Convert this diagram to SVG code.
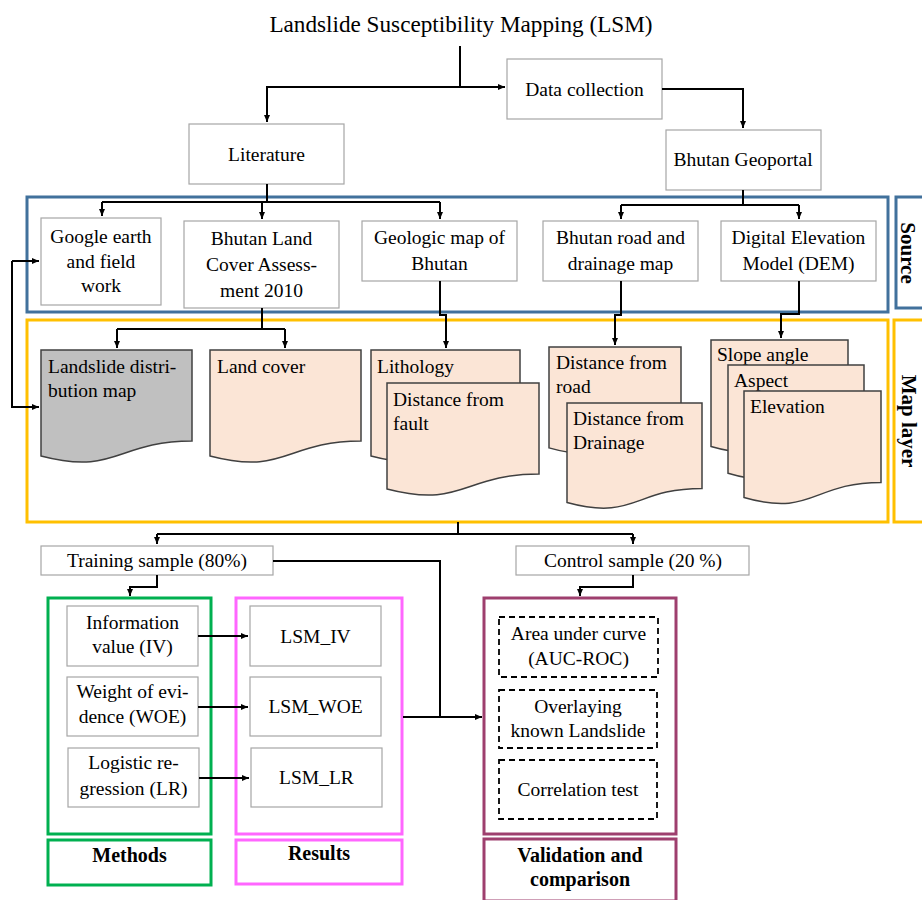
<svg xmlns="http://www.w3.org/2000/svg" width="922" height="900" viewBox="0 0 922 900">
<style>
text{font-family:"Liberation Serif","Times New Roman",serif;font-size:19.5px;fill:#000}
.c{text-anchor:middle}
.b{font-weight:bold;font-size:20px}
.lab{font-weight:bold;font-size:21px;text-anchor:middle}
.box{fill:#fff;stroke:#a6a6a6;stroke-width:1.2}
.doc{fill:#fbe5d6;stroke:#404040;stroke-width:1.5}
.dash{fill:#fff;stroke:#000;stroke-width:1.8;stroke-dasharray:6 4}
.conn path{fill:none;stroke:#000;stroke-width:2}
.arr{marker-end:url(#ah)}
</style>
<defs>
<marker id="ah" markerUnits="userSpaceOnUse" markerWidth="8" markerHeight="7" refX="7" refY="3" orient="auto"><path d="M0,0 L7,3 L0,6 z" fill="#000"/></marker>
</defs>
<rect width="922" height="900" fill="#fff"/>

<g id="title"><text class="c" x="461" y="32" style="font-size:23.2px">Landslide Susceptibility Mapping (LSM)</text></g>

<!-- group frames -->
<g id="source-frame">
<rect x="27" y="197" width="861" height="115" fill="none" stroke="#41719c" stroke-width="3"/>
<rect x="896" y="197" width="40" height="111" fill="none" stroke="#41719c" stroke-width="3"/>
<text class="lab" transform="translate(901,253) rotate(90)">Source</text>
</g>
<g id="maplayer-frame">
<rect x="27" y="320" width="861" height="202" fill="none" stroke="#ffc000" stroke-width="3"/>
<rect x="894" y="320" width="40" height="202" fill="none" stroke="#ffc000" stroke-width="3"/>
<text class="lab" transform="translate(902,421) rotate(90)">Map layer</text>
</g>

<g id="data-collection"><rect class="box" x="507" y="59" width="155" height="60"/><text class="c" x="584.5" y="96">Data collection</text></g>
<g id="literature"><rect class="box" x="189" y="124" width="155" height="60"/><text class="c" x="266.5" y="161">Literature</text></g>
<g id="geoportal"><rect class="box" x="666" y="130" width="155" height="60"/><text class="c" x="743" y="166">Bhutan Geoportal</text></g>

<g id="google-earth"><rect class="box" x="41" y="218" width="120" height="87"/><text class="c" x="101" y="243">Google earth</text><text class="c" x="101" y="268">and field</text><text class="c" x="101" y="292">work</text></g>
<g id="land-cover-assessment"><rect class="box" x="184" y="221" width="155" height="87"/><text class="c" x="261.5" y="245">Bhutan Land</text><text class="c" x="261.5" y="271">Cover Assess-</text><text class="c" x="261.5" y="297">ment 2010</text></g>
<g id="geologic-map"><rect class="box" x="362" y="221" width="155" height="60"/><text class="c" x="439.5" y="244">Geologic map of</text><text class="c" x="439.5" y="270">Bhutan</text></g>
<g id="road-drainage-map"><rect class="box" x="543" y="221" width="155" height="60"/><text class="c" x="620.5" y="244">Bhutan road and</text><text class="c" x="620.5" y="270">drainage map</text></g>
<g id="dem"><rect class="box" x="721" y="221" width="155" height="60"/><text class="c" x="798.5" y="244">Digital Elevation</text><text class="c" x="798.5" y="270">Model (DEM)</text></g>

<g id="landslide-distribution"><path d="M41,350 H192 V441 C116.5,441 116.5,475.7 41,456 Z" fill="#c0c0c0" stroke="#404040" stroke-width="1.5"/><text x="48" y="373">Landslide distri-</text><text x="48" y="397">bution map</text></g>
<g id="land-cover"><path class="doc" d="M210,350 H361 V441 C285.5,441 285.5,475.7 210,456 Z"/><text x="217" y="373">Land cover</text></g>
<g id="lithology"><path class="doc" d="M371,350 H520 V441 C445.5,441 445.5,475.7 371,456 Z"/><text x="377" y="373">Lithology</text></g>
<g id="distance-fault"><path class="doc" d="M387,383 H539 V474 C463,474 463,508.7 387,489 Z"/><text x="393" y="406">Distance from</text><text x="393" y="430">fault</text></g>
<g id="distance-road"><path class="doc" d="M549,347 H681 V433.6 C615,433.6 615,466.6 549,447.9 Z"/><text x="556" y="369">Distance from</text><text x="556" y="393">road</text></g>
<g id="distance-drainage"><path class="doc" d="M567,403 H702 V488.4 C634.5,488.4 634.5,521 567,502.5 Z"/><text x="573" y="425">Distance from</text><text x="573" y="449">Drainage</text></g>
<g id="slope"><path class="doc" d="M711,340 H848 V431.4 C779.5,431.4 779.5,466.3 711,446.5 Z"/><text x="717" y="361">Slope angle</text></g>
<g id="aspect"><path class="doc" d="M728,365 H864 V458 C796,458 796,493.5 728,473.3 Z"/><text x="734" y="387">Aspect</text></g>
<g id="elevation"><path class="doc" d="M744,391 H881 V482.4 C812.5,482.4 812.5,517.3 744,497.5 Z"/><text x="750" y="413">Elevation</text></g>

<g id="training"><rect class="box" x="41" y="546" width="232" height="29"/><text class="c" x="157" y="567">Training sample (80%)</text></g>
<g id="control"><rect class="box" x="516" y="546" width="233" height="29"/><text class="c" x="633" y="567">Control sample (20 %)</text></g>

<g id="methods">
<rect x="48" y="598" width="163" height="236" fill="none" stroke="#00b050" stroke-width="3"/>
<rect x="48" y="840" width="163" height="45" fill="none" stroke="#00b050" stroke-width="3"/>
<text class="c b" x="129.5" y="862">Methods</text>
</g>
<g id="results">
<rect x="236" y="598" width="166" height="236" fill="none" stroke="#ff66ff" stroke-width="3"/>
<rect x="236" y="840" width="166" height="44" fill="none" stroke="#ff66ff" stroke-width="3"/>
<text class="c b" x="319" y="860">Results</text>
</g>
<g id="validation">
<rect x="484" y="598" width="192" height="236" fill="none" stroke="#9e3f6e" stroke-width="3"/>
<rect x="484" y="839" width="192" height="62" fill="none" stroke="#9e3f6e" stroke-width="3"/>
<text class="c b" x="580" y="862">Validation and</text>
<text class="c b" x="580" y="886">comparison</text>
</g>

<g id="iv"><rect class="box" x="67" y="606" width="131" height="60"/><text class="c" x="132.5" y="629">Information</text><text class="c" x="132.5" y="653">value (IV)</text></g>
<g id="woe"><rect class="box" x="67" y="677" width="131" height="59"/><text class="c" x="132.5" y="698">Weight of evi-</text><text class="c" x="132.5" y="723">dence (WOE)</text></g>
<g id="lr"><rect class="box" x="68" y="748" width="131" height="59"/><text class="c" x="133.5" y="769">Logistic re-</text><text class="c" x="133.5" y="795">gression (LR)</text></g>
<g id="lsm-iv"><rect class="box" x="250" y="606" width="131" height="60"/><text class="c" x="315.5" y="643">LSM_IV</text></g>
<g id="lsm-woe"><rect class="box" x="250" y="677" width="131" height="59"/><text class="c" x="315.5" y="713">LSM_WOE</text></g>
<g id="lsm-lr"><rect class="box" x="251" y="748" width="131" height="59"/><text class="c" x="316.5" y="784">LSM_LR</text></g>

<g id="auc"><rect class="dash" x="499" y="617" width="159" height="60"/><text class="c" x="578.5" y="640">Area under curve</text><text class="c" x="578.5" y="665">(AUC-ROC)</text></g>
<g id="overlay"><rect class="dash" x="499" y="690" width="158" height="58"/><text class="c" x="578" y="713">Overlaying</text><text class="c" x="578" y="737">known Landslide</text></g>
<g id="correlation"><rect class="dash" x="499" y="760" width="158" height="59"/><text class="c" x="578" y="796">Correlation test</text></g>

<g id="connectors" class="conn">
<path class="arr" d="M460,46 V87 H505"/>
<path class="arr" d="M460,87 H267 V122"/>
<path class="arr" d="M662,89 H743 V128"/>
<path d="M267,184 V202 M102,202 H440"/>
<path class="arr" d="M102,202 V216"/>
<path class="arr" d="M262,202 V219"/>
<path class="arr" d="M440,202 V219"/>
<path d="M743,190 V205 M621,205 H799"/>
<path class="arr" d="M621,205 V219"/>
<path class="arr" d="M799,205 V219"/>
<path class="arr" d="M12,261 H39"/>
<path class="arr" d="M12,261 V407 H39"/>
<path d="M262,308 V329 M117,329 H285"/>
<path class="arr" d="M117,329 V348"/>
<path class="arr" d="M285,329 V348"/>
<path class="arr" d="M440,281 V315 H446 V348"/>
<path class="arr" d="M621,281 V315 H615 V345"/>
<path class="arr" d="M799,281 V314 H781 V338"/>
<path d="M458,522 V534 M157,534 H633"/>
<path class="arr" d="M157,534 V544"/>
<path class="arr" d="M633,534 V544"/>
<path class="arr" d="M157,575 V587 H130 V596"/>
<path class="arr" d="M633,575 V587 H580 V596"/>
<path d="M273,561 H440 V717"/>
<path class="arr" d="M403,717 H482"/>
<path class="arr" d="M198,636 H248"/>
<path class="arr" d="M198,707 H248"/>
<path class="arr" d="M199,778 H249"/>
</g>
</svg>
